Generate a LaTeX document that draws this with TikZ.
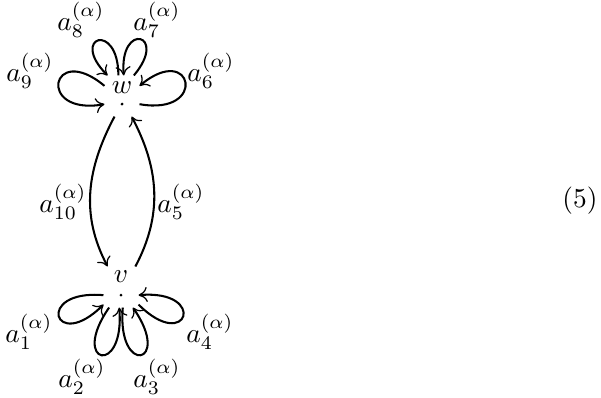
\documentclass[tikz,border=0pt]{standalone}
\usetikzlibrary{arrows.meta}
\begin{document}
\begin{tikzpicture}[x=0.365pt,y=0.365pt,
  arr/.style={line width=0.75pt,-{Computer Modern Rightarrow[line width=0.45pt,length=3.2pt,width=5.5pt]}},
  vbox/.style={minimum width=12.4pt,minimum height=14.6pt,inner sep=0pt,draw=none},
  vdot/.style={circle,fill,inner sep=0pt,minimum size=1.1pt},
  lab/.style={inner sep=0pt}]
\useasboundingbox (0,0) rectangle (601,397);
% vertices
\node[vbox] (w) at (122,301) {};
\node[lab] (wl) at (122,309) {$w$};
\node[vdot] (wd) at (122,293) {};
\node[vbox] (v) at (121,110) {};
\node[lab] (vl) at (121,120) {$v$};
\node[vdot] (vd) at (121,102) {};
% loops at w
\draw[arr] (w.150) to[out=140,in=190,distance=25.5pt] (w.205);
\draw[arr] (w.100) to[out=90,in=135,distance=20pt] (w.125);
\draw[arr] (w.60) to[out=50,in=95,distance=20pt] (w.85);
\draw[arr] (w.-25) to[out=-10,in=40,distance=25.5pt] (w.30);
% loops at v
\draw[arr] (v.205) to[out=175,in=225,distance=25.5pt] (v.225);
\draw[arr] (v.240) to[out=235,in=275,distance=25.5pt] (v.265);
\draw[arr] (v.275) to[out=265,in=305,distance=25.5pt] (v.300);
\draw[arr] (v.315) to[out=315,in=5,distance=25.5pt] (v.-25);
% edges between w and v
\draw[arr] (w.250) to[out=242,in=118] (v.123);
\draw[arr] (v.55) to[out=62,in=298] (w.295);
% labels
\node[lab] (l8) at (81,377) {$a_8^{(\alpha)}$};
\node[lab] (l7) at (157,377) {$a_7^{(\alpha)}$};
\node[lab] (l9) at (30,326) {$a_9^{(\alpha)}$};
\node[lab] (l6) at (211,326) {$a_6^{(\alpha)}$};
\node[lab] (l10) at (63,195) {$a_{10}^{(\alpha)}$};
\node[lab] (l5) at (181,195) {$a_5^{(\alpha)}$};
\node[lab] (l1) at (29,65) {$a_1^{(\alpha)}$};
\node[lab] (l4) at (210,65) {$a_4^{(\alpha)}$};
\node[lab] (l2) at (82,20) {$a_2^{(\alpha)}$};
\node[lab] (l3) at (157,20) {$a_3^{(\alpha)}$};
\node[lab] (eqn) at (580,196) {(5)};
\end{tikzpicture}
\end{document}
